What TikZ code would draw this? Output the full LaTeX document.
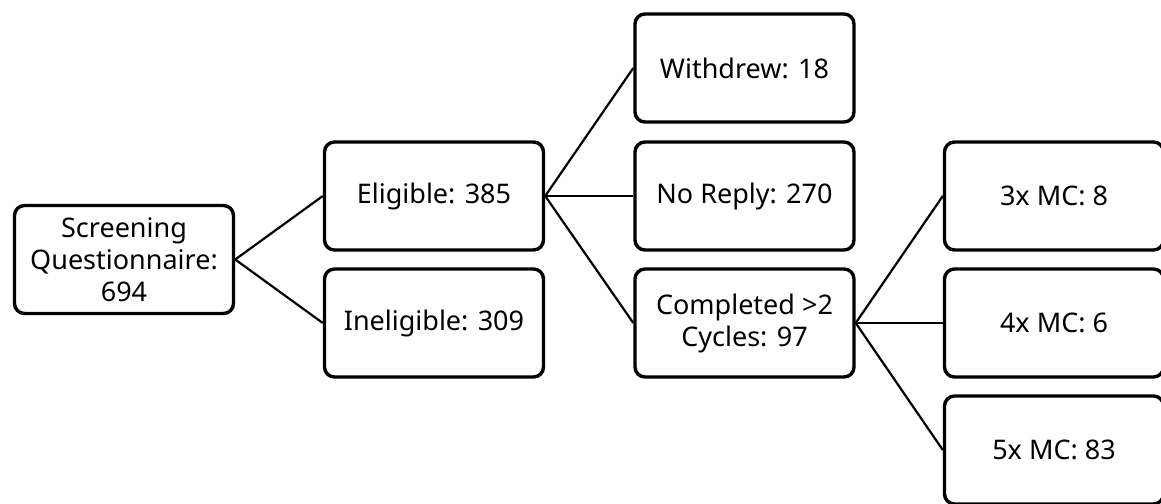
\documentclass[tikz,border=0pt]{standalone}
\usepackage{fontspec}
\setmainfont{Noto Sans}
\begin{document}
\begin{tikzpicture}[x=1pt,y=-1pt,
  box/.style={draw=black, line width=3.4pt, rounded corners=10pt, fill=white,
    minimum width=219pt, minimum height=108pt, align=center,
    font=\fontsize{27}{32}\selectfont, inner sep=2pt},
  link/.style={draw=black, line width=2.2pt}]
\useasboundingbox (0,0) rectangle (1161,503);
% first column
\node[box] (sq) at (124,259.5) {Screening\\Questionnaire:\\694};
% second column
\node[box] (el) at (434,196) {Eligible: 385};
\node[box] (in) at (434,323) {Ineligible: 309};
% third column
\node[box] (wd) at (744.5,68) {Withdrew: 18};
\node[box] (nr) at (744.5,196) {No Reply: 270};
\node[box] (cc) at (744.5,323) {Completed >2\\Cycles: 97};
% fourth column
\node[box] (m3) at (1054,196) {3x MC: 8};
\node[box] (m4) at (1054,323) {4x MC: 6};
\node[box] (m5) at (1054,450) {5x MC: 83};
% connectors
\draw[link] (sq.east) -- (el.west);
\draw[link] (sq.east) -- (in.west);
\draw[link] (el.east) -- (wd.west);
\draw[link] (el.east) -- (nr.west);
\draw[link] (el.east) -- (cc.west);
\draw[link] (cc.east) -- (m3.west);
\draw[link] (cc.east) -- (m4.west);
\draw[link] (cc.east) -- (m5.west);
\end{tikzpicture}
\end{document}
